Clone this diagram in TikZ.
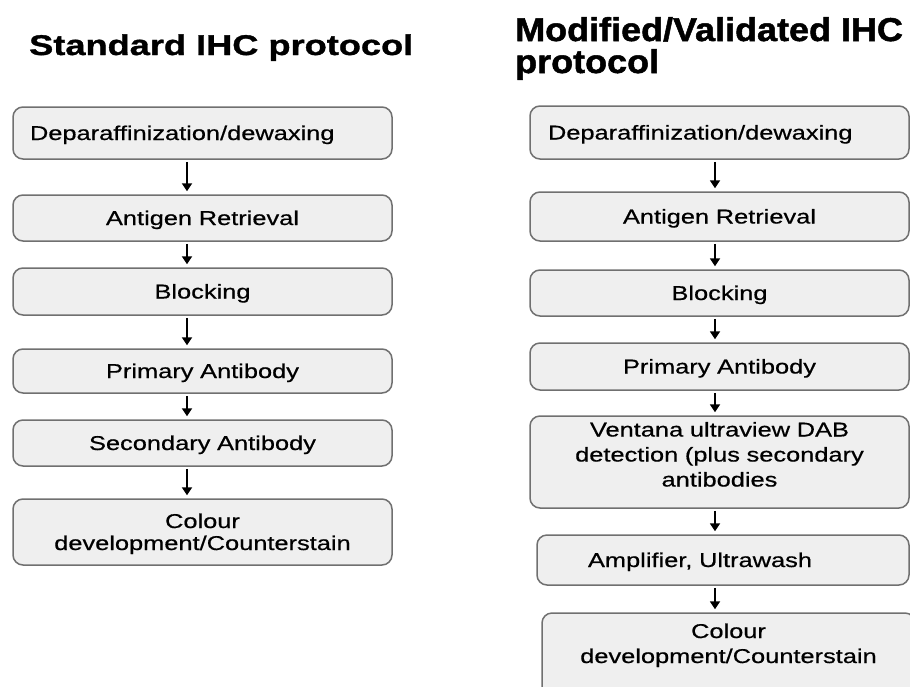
\documentclass[tikz,border=0pt]{standalone}
\usepackage{fontspec}
\usetikzlibrary{arrows.meta}
\newfontfamily\boxfont{Liberation Sans}[FakeStretch=1.27, FakeBold=0.6]
\newfontfamily\headfont{Liberation Sans}[FakeStretch=1.27, FakeBold=1.2]
\newfontfamily\headfontb{Liberation Sans}[FakeStretch=1.09, FakeBold=1.5]
\definecolor{boxfill}{HTML}{EFEFEF}
\definecolor{boxline}{HTML}{707070}

\begin{document}
\begin{tikzpicture}[x=1pt, y=-1pt,
	stage/.style={draw=boxline, fill=boxfill, line width=1.5pt, rounded corners=10pt,
		font=\boxfont\fontsize{20}{24}\selectfont, align=center, text width=363pt,
		inner xsep=8pt, inner ysep=0pt, text height=15pt, text depth=1pt},
	flow/.style={-{Triangle[width=10pt,length=8pt]}, line width=1.8pt, shorten <=2pt, shorten >=3pt}]
			\useasboundingbox (0,0) rectangle (910,686);
			
			\node[anchor=base west, inner sep=0pt, font=\headfont\bfseries\fontsize{28.5}{34}\selectfont] (lhead) at (29,55) {Standard IHC protocol};
			\node[anchor=base west, inner sep=0pt, align=left, font=\headfontb\bfseries\fontsize{33}{32}\selectfont] (rhead) at (515,73) {Modified/Validated IHC\\protocol};
			
			\node[stage, text width=345pt, inner xsep=17pt, align=left, minimum height=52pt] (l1) at (202.5,133) {Deparaffinization/dewaxing};
			\node[stage, minimum height=46pt] (l2) at (202.5,218) {Antigen Retrieval};
			\node[stage, minimum height=47pt] (l3) at (202.5,291.5) {Blocking};
			\node[stage, minimum height=44pt] (l4) at (202.5,371) {Primary Antibody};
			\node[stage, minimum height=46pt] (l5) at (202.5,443) {Secondary Antibody};
			\node[stage, minimum height=66pt, text depth=23pt, font=\boxfont\fontsize{20}{22}\selectfont] (l6) at (202.5,532) {Colour\\development/Counterstain};
			
			\node[stage, text width=343pt, inner xsep=18pt, align=left, minimum height=53pt] (r1) at (719.5,132.5) {Deparaffinization/dewaxing};
			\node[stage, minimum height=49pt] (r2) at (719.5,216.5) {Antigen Retrieval};
			\node[stage, minimum height=46pt] (r3) at (719.5,293) {Blocking};
			\node[stage, minimum height=47pt] (r4) at (719.5,366.5) {Primary Antibody};
			\node[stage, minimum height=92pt, text depth=66pt, font=\boxfont\fontsize{20}{25}\selectfont] (r5) at (719.5,462) {Ventana ultraview DAB\\detection (plus secondary\\antibodies};
			\node[stage, text width=270pt, inner xsep=51pt, align=left, minimum height=50pt] (r6) at (723,560) {Amplifier, Ultrawash};
			\node[stage, text width=357pt, minimum height=100pt, text depth=65pt, font=\boxfont\fontsize{20}{25}\selectfont] (r7) at (728.5,663) {Colour\\development/Counterstain};
			
			\draw[flow] ([xshift=-15.5pt]l1.south) -- ([xshift=-15.5pt]l2.north);
			\draw[flow] ([xshift=-15.5pt]l2.south) -- ([xshift=-15.5pt]l3.north);
			\draw[flow] ([xshift=-15.5pt]l3.south) -- ([xshift=-15.5pt]l4.north);
			\draw[flow] ([xshift=-15.5pt]l4.south) -- ([xshift=-15.5pt]l5.north);
			\draw[flow] ([xshift=-15.5pt]l5.south) -- ([xshift=-15.5pt]l6.north);
			
			\draw[flow] ([xshift=-4.5pt]r1.south) -- ([xshift=-4.5pt]r2.north);
			\draw[flow] ([xshift=-4.5pt]r2.south) -- ([xshift=-4.5pt]r3.north);
			\draw[flow] ([xshift=-4.5pt]r3.south) -- ([xshift=-4.5pt]r4.north);
			\draw[flow] ([xshift=-4.5pt]r4.south) -- ([xshift=-4.5pt]r5.north);
			\draw[flow] ([xshift=-4.5pt]r5.south) -- ([xshift=-4.5pt]r5.south |- r6.north);
			\draw[flow] ([xshift=-8pt]r6.south) -- ([xshift=-8pt]r6.south |- r7.north);
			
		\end{tikzpicture}
\end{document}
